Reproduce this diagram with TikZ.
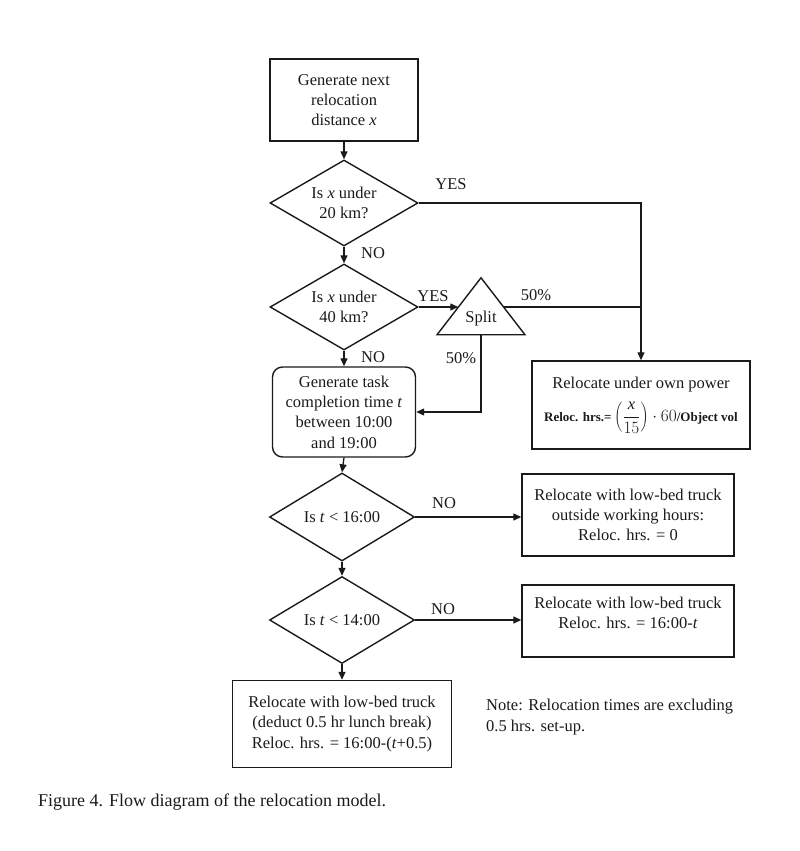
\documentclass[tikz,border=0pt]{standalone}
\usepackage{fontspec}
\setmainfont{Liberation Serif}
\usepackage{tikz}
\usetikzlibrary{positioning,arrows.meta,calc,shapes.geometric}
\definecolor{cInk}{HTML}{1A1A1A}
\tikzset{
  base/.style    ={draw=cInk, line width=1.4pt, align=center, inner sep=0pt,
                   text=cInk, font=\fontsize{16.5}{20.3}\selectfont},
  process/.style ={base, rectangle},
  task/.style    ={base, rectangle, rounded corners=10pt},
  decision/.style={base, diamond, aspect=1.72, minimum width=148pt, minimum height=86pt},
  splitter/.style={base, isosceles triangle, isosceles triangle stretches,
                   shape border rotate=90, minimum width=88pt, minimum height=57pt},
  flow/.style    ={-{Triangle[length=8pt,width=7pt]}, line width=1.3pt, draw=cInk},
  link/.style    ={line width=1.3pt, draw=cInk},
  lbl/.style     ={font=\fontsize{16.5}{20}\selectfont, text=cInk, inner sep=0pt},
  note/.style    ={lbl, align=left, font=\fontsize{16.5}{20.3}\selectfont},
  capt/.style    ={font=\fontsize{18}{22}\selectfont, text=cInk, inner sep=0pt},
}
\begin{document}
\begin{tikzpicture}[x=1pt, y=-1pt]
  \useasboundingbox (0,0) rectangle (800,851);

  % ---- main column ----
  \node[process, minimum width=148pt, minimum height=82pt] (gen) at (344,100)
    {Generate next\\relocation\\distance \textit{x}};
  \node[decision] (d20) at (344,203) {Is \textit{x} under\\20 km?};
  \node[decision] (d40) at (344,307) {Is \textit{x} under\\40 km?};
  \node[task, minimum width=143pt, minimum height=90pt] (task) at (344,412)
    {Generate task\\completion time \textit{t}\\between 10:00\\and 19:00};
  \node[decision, minimum width=145pt, minimum height=88pt] (d16) at (342,517)
    {Is \textit{t} {<} 16:00};
  \node[decision, minimum width=145pt, minimum height=87pt] (d14) at (342,620)
    {Is \textit{t} {<} 14:00};
  \node[process, minimum width=219pt, minimum height=87pt] (lunch) at (342,724)
    {Relocate with low-bed truck\\(deduct 0.5 hr lunch break)\\Reloc. hrs. = 16:00-(\textit{t}+0.5)};

  % ---- split + right column ----
  \node[splitter] (split) at (481,319) {Split};
  \node[process, minimum width=218pt, minimum height=88pt] (own) at (641,405)
    {Relocate under own power\\[9pt]
     {\bfseries\fontsize{13}{15}\selectfont Reloc. hrs.=}$\displaystyle\,\left(\frac{\mbox{\itshape x}}{15}\right)\cdot 60$%
     {\bfseries\fontsize{13}{15}\selectfont /Object vol}};
  \node[process, minimum width=212pt, minimum height=82pt] (after) at (628,515)
    {Relocate with low-bed truck\\outside working hours:\\Reloc. hrs. = 0};
  \node[process, minimum width=212pt, minimum height=72pt, text depth=16pt] (late) at (628,621)
    {Relocate with low-bed truck\\Reloc. hrs. = 16:00-\textit{t}};

  % ---- edges ----
  \draw[flow] (gen.south) -- (d20.north);
  \draw[flow] (d20.south) -- (d40.north);
  \draw[flow] (d40.south) -- (task.north);
  \draw[flow] (task.south) -- (d16.north);
  \draw[flow] (d16.south) -- (d14.north);
  \draw[flow] (d14.south) -- (lunch.north);
  \draw[flow] (d20.east) -- (d20.east -| own.north) -- (own.north);
  \draw[flow] (d40.east) -- (d40.east -| split.left side);
  \draw[link] (d40.east -| split.right side) -- (d40.east -| own.north);
  \draw[flow] (split.lower side) -- (split.lower side |- task.east) -- (task.east);
  \draw[flow] (d16.east) -- (d16.east -| after.west);
  \draw[flow] (d14.east) -- (d14.east -| late.west);

  % ---- edge labels ----
  \node[lbl] (yes20) at (451,184) {YES};
  \node[lbl] (no20)  at (373,253) {NO};
  \node[lbl] (yes40) at (433,296) {YES};
  \node[lbl] (no40)  at (373,357) {NO};
  \node[lbl] (pcA)   at (536,295) {50\%};
  \node[lbl] (pcB)   at (461,358) {50\%};
  \node[lbl] (no16)  at (444,503) {NO};
  \node[lbl] (no14)  at (443,609) {NO};

  % ---- note + caption ----
  \node[note, anchor=west] (note) at (486,717)
    {Note: Relocation times are excluding\\0.5 hrs. set-up.};
  \node[capt, anchor=west] (caption) at (38,802)
    {Figure 4. Flow diagram of the relocation model.};
\end{tikzpicture}
\end{document}
